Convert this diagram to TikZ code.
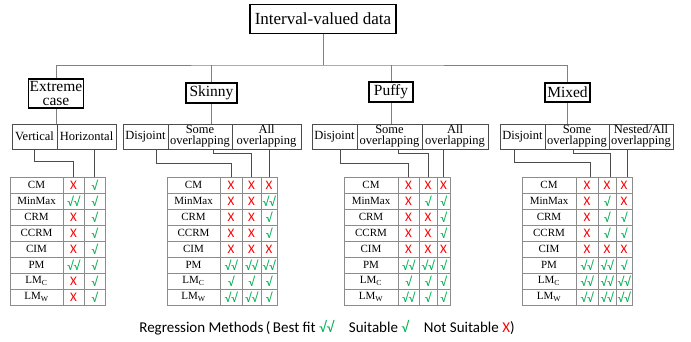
\documentclass[tikz,border=0pt]{standalone}
\usepackage{fontspec}
\setmainfont{Liberation Serif}
\newfontfamily\calib{Carlito}
\definecolor{okgreen}{HTML}{00B050}
\definecolor{nored}{HTML}{FF0000}
\definecolor{gridgray}{HTML}{8C8C8C}
% marks: x = not suitable, s = suitable, b = best fit
\newcommand\mkx{{\calib\textcolor{nored}{X}}}
\newcommand\mks{{\calib\textcolor{okgreen}{√}}}
\newcommand\mkb{{\calib\textcolor{okgreen}{√√}}}
\newcommand\mk[1]{\csname mk#1\endcsname}
\tikzset{
  topbox/.style={draw, line width=1.1pt, inner sep=0pt, minimum width=146pt, minimum height=29pt, font=\fontsize{17}{17}\selectfont},
  catbox/.style={draw, line width=1.1pt, inner sep=0pt, align=center, font=\fontsize{15.5}{14}\selectfont},
  subbox/.style={draw=black!70, line width=.8pt, inner sep=0pt, align=center, minimum height=25pt, font=\fontsize{12.5}{11}\selectfont},
  meth/.style={draw=gridgray, line width=.8pt, inner sep=0pt, minimum height=16pt, minimum width=53pt, font=\fontsize{11}{11}\selectfont},
  cell/.style={draw=gridgray, line width=.8pt, inner sep=0pt, minimum height=16pt, font=\calib\fontsize{13}{13}\selectfont},
  conn/.style={draw=gray, line width=.9pt},
  link/.style={draw=black!70, line width=.7pt}
}
\begin{document}
\begin{tikzpicture}[x=1pt,y=-1pt]
\useasboundingbox (0,0) rectangle (691,341);
% tree
\node[topbox] (top) at (323,19) {Interval-valued data};
\coordinate (bus) at (323,65);
\node[catbox, minimum width=55pt, minimum height=29pt] (ext) at (56,93.5) {Extreme\\case};
\node[catbox, minimum width=51pt, minimum height=20pt] (skin) at (211.5,93) {Skinny};
\node[catbox, minimum width=44pt, minimum height=20pt] (puff) at (391,92) {Puffy};
\node[catbox, minimum width=45pt, minimum height=19pt] (mix) at (567.5,92.5) {Mixed};
\draw[conn] (top.south) -- (bus);
\draw[conn] (ext.north) |- (bus) -| (mix.north);
\draw[conn] (skin.north) -- (skin.north |- bus);
\draw[conn] (puff.north) -- (puff.north |- bus);

% sub cases
\node[subbox, minimum width=45pt] (extV) at (34.5,136.5) {Vertical};
\node[subbox, minimum width=59pt] (extH) at (86.5,136.5) {Horizontal};
\node[subbox, minimum width=45pt] (skD) at (145.5,136.5) {Disjoint};
\node[subbox, minimum width=64pt] (skS) at (200,136.5) {Some\\overlapping};
\node[subbox, minimum width=69pt] (skA) at (266.5,136.5) {All\\overlapping};
\node[subbox, minimum width=45pt] (pfD) at (334.5,136.5) {Disjoint};
\node[subbox, minimum width=65pt] (pfS) at (389.5,136.5) {Some\\overlapping};
\node[subbox, minimum width=66pt] (pfA) at (455,136.5) {All\\overlapping};
\node[subbox, minimum width=45pt] (mxD) at (522.5,136.5) {Disjoint};
\node[subbox, minimum width=64pt] (mxS) at (577,136.5) {Some\\overlapping};
\node[subbox, minimum width=64pt] (mxN) at (641,136.5) {Nested/All\\overlapping};
\draw[conn] (ext.south) -- (ext.south |- extV.north);
\draw[conn] (skin.south) -- (skin.south |- skS.north);
\draw[conn] (puff.south) -- (puff.south |- pfS.north);
\draw[conn] (mix.south) -- (mix.south |- mxS.north);

% tables
\foreach \m/\a/\b [count=\r] in {CM/x/s, MinMax/b/s, CRM/x/s, CCRM/x/s, CIM/x/s, PM/b/s, LM\textsubscript{C}/x/s, LM\textsubscript{W}/x/s}{
  \node[meth] (tE\r) at (36.5,169+16*\r) {\m};
  \node[cell, minimum width=21pt] (tE\r-a) at (73.5,169+16*\r) {\mk\a};
  \node[cell, minimum width=21pt] (tE\r-b) at (94.5,169+16*\r) {\mk\b};
}
\foreach \m/\a/\b/\c [count=\r] in {CM/x/x/x, MinMax/x/x/b, CRM/x/x/s, CCRM/x/x/s, CIM/x/x/x, PM/b/b/b, LM\textsubscript{C}/s/s/s, LM\textsubscript{W}/b/b/s}{
  \node[meth] (tS\r) at (193.5,169+16*\r) {\m};
  \node[cell, minimum width=22pt] (tS\r-a) at (231,169+16*\r) {\mk\a};
  \node[cell, minimum width=19pt] (tS\r-b) at (251.5,169+16*\r) {\mk\b};
  \node[cell, minimum width=16pt] (tS\r-c) at (269,169+16*\r) {\mk\c};
}
\foreach \m/\a/\b/\c [count=\r] in {CM/x/x/x, MinMax/x/s/s, CRM/x/x/s, CCRM/x/x/s, CIM/x/x/x, PM/b/b/s, LM\textsubscript{C}/s/s/s, LM\textsubscript{W}/b/s/s}{
  \node[meth, minimum width=54pt] (tP\r) at (371,169+16*\r) {\m};
  \node[cell, minimum width=21pt] (tP\r-a) at (408.5,169+16*\r) {\mk\a};
  \node[cell, minimum width=18pt] (tP\r-b) at (428,169+16*\r) {\mk\b};
  \node[cell, minimum width=13pt] (tP\r-c) at (443.5,169+16*\r) {\mk\c};
}
\foreach \m/\a/\b/\c [count=\r] in {CM/x/x/x, MinMax/x/s/x, CRM/x/s/s, CCRM/x/s/s, CIM/x/x/x, PM/b/b/s, LM\textsubscript{C}/b/b/b, LM\textsubscript{W}/b/b/b}{
  \node[meth, minimum width=54pt] (tM\r) at (549,169+16*\r) {\m};
  \node[cell, minimum width=22pt] (tM\r-a) at (587,169+16*\r) {\mk\a};
  \node[cell, minimum width=18pt] (tM\r-b) at (607,169+16*\r) {\mk\b};
  \node[cell, minimum width=16pt] (tM\r-c) at (624,169+16*\r) {\mk\c};
}

% sub cases to table columns
\draw[link] (extV.south) -- ++(0,12) -| (tE1-a.north);
\draw[link] (tE1-b.north |- extH.south) -- (tE1-b.north);
\draw[link] ([xshift=10.5pt]skD.south) -- ++(0,14) -| (tS1-a.north);
\draw[link] ([xshift=13pt]skS.south) -- ++(0,4) -| (tS1-b.north);
\draw[link] (tS1-c.north |- skA.south) -- (tS1-c.north);
\draw[link] ([xshift=5.5pt]pfD.south) -- ++(0,14) -| (tP1-a.north);
\draw[link] ([xshift=8.5pt]pfS.south) -- ++(0,4) -| (tP1-b.north);
\draw[link] (tP1-c.north |- pfA.south) -- (tP1-c.north);
\draw[link] ([xshift=-8.5pt]mxD.south) -- ++(0,13) -| ([xshift=3pt]tM1-a.north);
\draw[link] ([xshift=-4pt]mxS.south) -- ++(0,4) -| ([xshift=3pt]tM1-b.north);
\draw[link] ([xshift=3pt]tM1-c.north |- mxN.south) -- ([xshift=3pt]tM1-c.north);

% legend
\node[font=\calib\fontsize{15}{15}\selectfont] (legend) at (327,328)
  {Regression Methods\,(\,Best fit \mkb\quad Suitable \mks\quad Not Suitable \mkx)};
\end{tikzpicture}
\end{document}
